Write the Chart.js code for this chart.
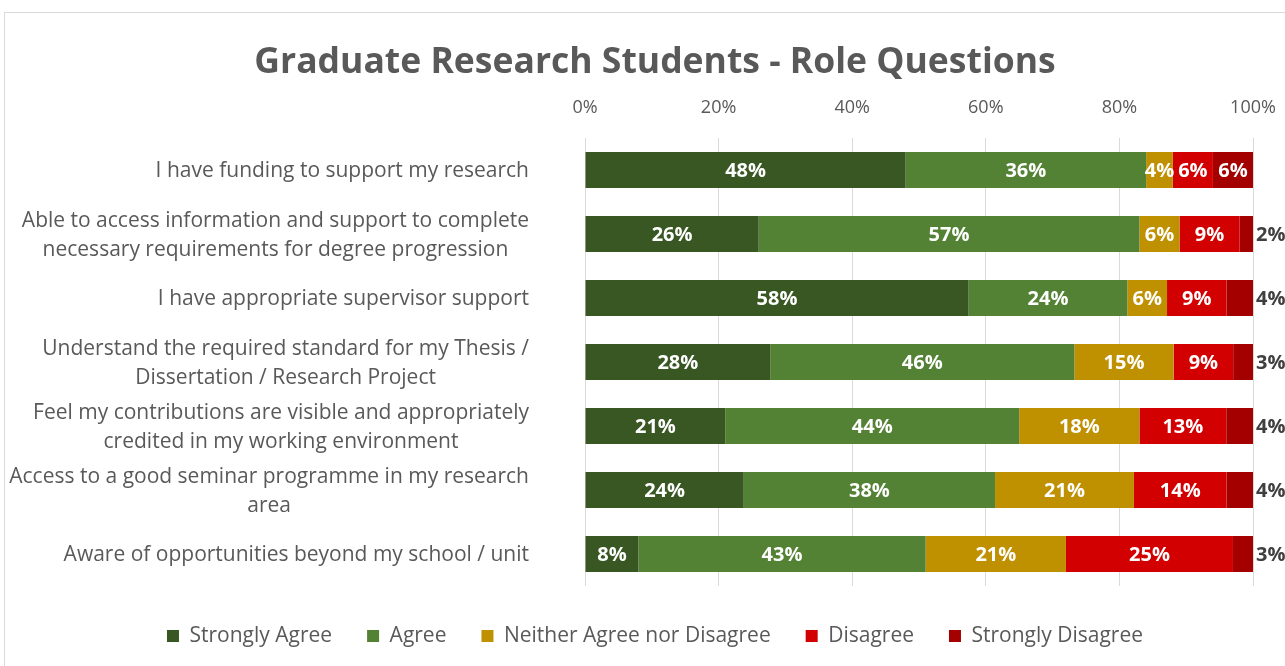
<!DOCTYPE html>
<html>
<head>
<meta charset="utf-8">
<title>Graduate Research Students - Role Questions</title>
<script src="https://cdn.jsdelivr.net/npm/chart.js@4.4.1/dist/chart.umd.min.js"></script>
<style>
  html, body { margin: 0; padding: 0; background: #fff; overflow: hidden; }
  #frame { position: absolute; left: 4px; top: 12px; border: 1px solid #d9d9d9; background: #fff; }
  canvas { display: block; }
</style>
</head>
<body>
<div id="frame"><canvas id="roleChart" width="1300" height="661"></canvas></div>
<script>
const questions = [
  'I have funding to support my research',
  ['Able to access information and support to complete', 'necessary requirements for degree progression'],
  'I have appropriate supervisor support',
  ['Understand the required standard for my Thesis /', 'Dissertation / Research Project'],
  ['Feel my contributions are visible and appropriately', 'credited in my working environment'],
  ['Access to a good seminar programme in my research', 'area'],
  'Aware of opportunities beyond my school / unit'
];
const responses = ['Strongly Agree', 'Agree', 'Neither Agree nor Disagree', 'Disagree', 'Strongly Disagree'];

// percentage of respondents per question, as printed on the bars
const stronglyAgree    = [48, 26, 58, 28, 21, 24, 8];
const agree            = [36, 57, 24, 46, 44, 38, 43];
const neither          = [4, 6, 6, 15, 18, 21, 21];
const disagree         = [6, 9, 9, 9, 13, 14, 25];
const stronglyDisagree = [6, 2, 4, 3, 4, 4, 3];

const percentTicks = [0, 20, 40, 60, 80, 100];

const series = [stronglyAgree, agree, neither, disagree, stronglyDisagree];
const colours = ['#385723', '#548235', '#bf9000', '#d20000', '#a50000'];

// rounded shares don't always add to 100, so scale each row like a 100% stacked bar
const rowTotals = questions.map((q, i) => series.reduce((sum, s) => sum + s[i], 0));

const grey = '#595959';
const font = '"Open Sans"';

const barLabels = {
  id: 'barLabels',
  afterDatasetsDraw(chart) {
    const ctx = chart.ctx;
    const last = series.length - 1;
    ctx.save();
    ctx.font = 'bold 20px ' + font;
    ctx.textBaseline = 'middle';
    series.forEach((values, d) => {
      chart.getDatasetMeta(d).data.forEach((bar, i) => {
        const text = values[i] + '%';
        if (d === last && values[i] < 5) {
          ctx.fillStyle = '#404040';
          ctx.textAlign = 'left';
          ctx.fillText(text, bar.x + 3, bar.y + 1);
        } else {
          ctx.fillStyle = '#ffffff';
          ctx.textAlign = 'center';
          ctx.fillText(text, (bar.x + bar.base) / 2, bar.y + 1);
        }
      });
    });
    ctx.restore();
  }
};

// question text: lines centred on each other, block right-aligned to the axis
const questionLabels = {
  id: 'questionLabels',
  afterDraw(chart) {
    const ctx = chart.ctx;
    const y = chart.scales.y;
    const right = 524;
    const lineGap = 29;
    ctx.save();
    ctx.font = '21px ' + font;
    ctx.fillStyle = grey;
    ctx.textAlign = 'center';
    ctx.textBaseline = 'middle';
    questions.forEach((q, i) => {
      const lines = Array.isArray(q) ? q : [q];
      const widest = Math.max(...lines.map(l => ctx.measureText(l).width));
      const cx = right - widest / 2;
      const cy = y.getPixelForValue(i) + 1.5;
      lines.forEach((line, k) => {
        ctx.fillText(line, cx, cy + (k - (lines.length - 1) / 2) * lineGap);
      });
    });
    ctx.restore();
  }
};

new Chart(document.getElementById('roleChart'), {
  type: 'bar',
  data: {
    labels: questions,
    datasets: series.map((values, d) => ({
      label: responses[d],
      data: values.map((v, i) => v / rowTotals[i] * 100),
      backgroundColor: colours[d],
      borderWidth: 0,
      categoryPercentage: 1,
      barPercentage: 0.5625
    }))
  },
  options: {
    indexAxis: 'y',
    responsive: false,
    animation: false,
    layout: { padding: { left: 0, right: 0, top: 0, bottom: 17.5 } },
    scales: {
      x: {
        stacked: true,
        position: 'top',
        min: 0,
        max: 100,
        afterBuildTicks(scale) { scale.ticks = percentTicks.map(v => ({ value: v })); },
        afterFit(scale) { scale.height = 53.4; },
        ticks: {
          callback: v => v + '%',
          color: grey,
          font: { family: font, size: 18 },
          padding: 19
        },
        grid: { color: '#d9d9d9', drawTicks: false },
        border: { display: false }
      },
      y: {
        stacked: true,
        afterFit(scale) { scale.width = 580; },
        ticks: { display: false },
        grid: { display: false },
        border: { display: false }
      },
      // empty right-hand axis keeps room for the outside labels
      yRight: {
        type: 'category',
        position: 'right',
        afterFit(scale) { scale.width = 52; },
        ticks: { display: false },
        grid: { display: false },
        border: { display: false }
      }
    },
    plugins: {
      title: {
        display: true,
        text: 'Graduate Research Students - Role Questions',
        color: grey,
        font: { family: font, size: 35.5, weight: 'bold' },
        padding: { top: 29, bottom: 0 }
      },
      legend: {
        position: 'bottom',
        // blank title only nudges the legend row down a little
        title: { display: true, text: '', font: { size: 1, lineHeight: 1 }, padding: { top: 3.5, bottom: 0 } },
        labels: {
          color: grey,
          font: { family: font, size: 21 },
          boxWidth: 12,
          boxHeight: 12,
          padding: 35
        }
      },
      tooltip: { enabled: false }
    }
  },
  plugins: [barLabels, questionLabels]
});
</script>
</body>
</html>
